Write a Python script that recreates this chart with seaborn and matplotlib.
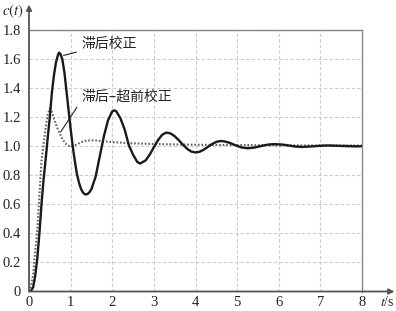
import numpy as np
import pandas as pd
import matplotlib
matplotlib.use("Agg")
import matplotlib.pyplot as plt
import seaborn as sns

# Lag correction (solid) response
t_lag = [0.0, 0.05, 0.1, 0.15, 0.2, 0.25, 0.3, 0.35, 0.4, 0.45, 0.5, 0.55, 0.6, 0.65, 0.7, 0.72,
         0.75, 0.8, 0.85, 0.9, 0.95, 1.0, 1.05, 1.1, 1.15, 1.2, 1.25, 1.3, 1.35, 1.4, 1.45, 1.5,
         1.6, 1.7, 1.8, 1.9, 2.0, 2.05, 2.1, 2.2, 2.3, 2.4, 2.5, 2.6, 2.67, 2.8, 2.9, 3.0, 3.1,
         3.2, 3.3, 3.4, 3.5, 3.6, 3.7, 3.8, 3.9, 4.0, 4.1, 4.2, 4.3, 4.4, 4.5, 4.6, 4.7, 4.8,
         4.9, 5.0, 5.1, 5.25, 5.4, 5.5, 5.6, 5.7, 5.8, 5.9, 6.0, 6.1, 6.2, 6.3, 6.4, 6.55, 6.7,
         6.9, 7.05, 7.2, 7.5, 7.85, 8.0]
c_lag = [0.0, 0.005, 0.03, 0.11, 0.23, 0.4, 0.6, 0.77, 0.91, 1.06, 1.2, 1.37, 1.49, 1.58, 1.632, 1.644,
         1.638, 1.6, 1.51, 1.38, 1.25, 1.12, 1.0, 0.9, 0.81, 0.75, 0.705, 0.68, 0.668, 0.67, 0.682, 0.705,
         0.79, 0.93, 1.07, 1.18, 1.24, 1.247, 1.239, 1.19, 1.113, 1.005, 0.942, 0.892, 0.881, 0.902, 0.942, 0.993, 1.042,
         1.079, 1.094, 1.088, 1.069, 1.041, 1.01, 0.982, 0.963, 0.957, 0.962, 0.976, 0.996, 1.015, 1.03, 1.036, 1.033, 1.025,
         1.014, 1.002, 0.992, 0.986, 0.99, 0.996, 1.003, 1.009, 1.013, 1.014, 1.013, 1.011, 1.007, 1.002, 0.998, 0.995, 0.997,
         1.001, 1.004, 1.005, 1.002, 0.999, 1.0]

# Lag-lead correction (dotted) response
t_ll = [0.0, 0.05, 0.1, 0.15, 0.2, 0.25, 0.3, 0.35, 0.4, 0.45, 0.5, 0.55, 0.6, 0.65, 0.7, 0.75,
        0.8, 0.85, 0.9, 0.95, 1.0, 1.1, 1.2, 1.3, 1.4, 1.6, 1.8, 2.0, 2.5, 3.0, 4.0, 5.0, 6.0, 7.0, 8.0]
c_ll = [0.0, 0.04, 0.12, 0.28, 0.43, 0.66, 0.9, 1.01, 1.13, 1.22, 1.26, 1.235, 1.19, 1.15, 1.11, 1.08,
        1.05, 1.03, 1.012, 1.003, 1.0, 1.006, 1.02, 1.033, 1.04, 1.04, 1.034, 1.028, 1.02, 1.015, 1.01, 1.008, 1.006, 1.005, 1.005]

x_ticks = [0, 1, 2, 3, 4, 5, 6, 7, 8]
y_ticks = [0, 0.2, 0.4, 0.6, 0.8, 1.0, 1.2, 1.4, 1.6, 1.8]
y_tick_labels = ["0", "0.2", "0.4", "0.6", "0.8", "1.0", "1.2", "1.4", "1.6", "1.8"]
label_lag = "滞后校正"
label_ll = "滞后–超前校正"

sns.set_theme(style="white")
plt.rcParams["font.family"] = ["Liberation Serif", "DejaVu Sans"]
plt.rcParams["mathtext.fontset"] = "stix"

fig = plt.figure(figsize=(3.96, 3.11), dpi=100)
ax = fig.add_axes([29 / 396, 19.5 / 311, 333 / 396, 261.5 / 311])

df_lag = pd.DataFrame({"t": t_lag, "c": c_lag})
df_ll = pd.DataFrame({"t": t_ll, "c": c_ll})
sns.lineplot(data=df_ll, x="t", y="c", ax=ax, color="#606060", lw=1.5,
             linestyle=(0, (0.8, 0.9)), sort=False, estimator=None)
sns.lineplot(data=df_lag, x="t", y="c", ax=ax, color="#1a1a1a", lw=1.7, sort=False, estimator=None,
             solid_joinstyle="round")

ax.set_xlim(0, 8)
ax.set_ylim(0, 1.8)
ax.set_xticks(x_ticks)
ax.set_xticklabels([str(v) for v in x_ticks])
ax.set_yticks(y_ticks)
ax.set_yticklabels(y_tick_labels)
ax.tick_params(length=0, labelsize=10.5, colors="#222222")
ax.tick_params(axis="y", pad=6)
ax.tick_params(axis="x", pad=3)
ax.set_xlabel("")
ax.set_ylabel("")
ax.grid(True, color="#cccccc", linestyle=(0, (3, 2)), lw=0.8)

for s in ["top", "right"]:
    ax.spines[s].set_color("#888888")
    ax.spines[s].set_linewidth(1.0)
for s in ["left", "bottom"]:
    ax.spines[s].set_visible(False)

# axes with arrows
ax.annotate("", xy=(8.78, 0), xytext=(0, 0), annotation_clip=False,
            arrowprops=dict(arrowstyle="-|>", color="#555555", lw=1.3, mutation_scale=8,
                            shrinkA=0, shrinkB=0))
ax.annotate("", xy=(0, 1.975), xytext=(0, 0), annotation_clip=False,
            arrowprops=dict(arrowstyle="-|>", color="#555555", lw=1.3, mutation_scale=8,
                            shrinkA=0, shrinkB=0))

fig.text(2 / 396, 1 - 11 / 311, r"$c(t)$", fontsize=10.5, va="center", ha="left", color="#222222")
fig.text(380 / 396, 1 - 302 / 311, r"$t$/s", fontsize=10, va="center", ha="left", color="#222222")

cjk = ["Noto Sans CJK SC", "DejaVu Sans"]
ax.annotate(label_lag, xy=(0.83, 1.625), xytext=(1.25, 1.705), fontsize=10, family=cjk,
            va="center", ha="left", color="#222222",
            arrowprops=dict(arrowstyle="-", color="#222222", lw=0.8, shrinkA=1, shrinkB=0))
ax.annotate(label_ll, xy=(0.76, 1.098), xytext=(1.25, 1.34), fontsize=10, family=cjk,
            va="center", ha="left", color="#222222",
            arrowprops=dict(arrowstyle="-", color="#222222", lw=0.8, shrinkA=1, shrinkB=0,
                            relpos=(0.0, 0.2)))

fig.savefig("out.png", dpi=100)
